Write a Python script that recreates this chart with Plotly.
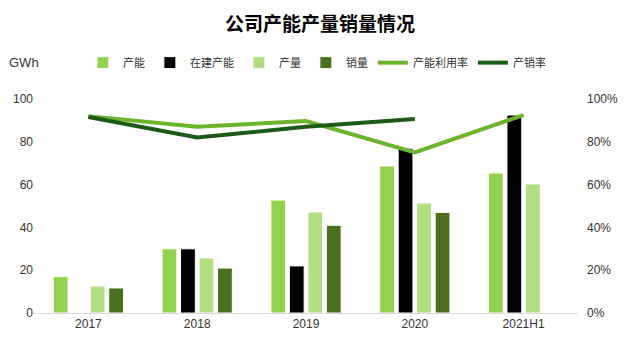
import plotly.graph_objects as go

categories = ["2017", "2018", "2019", "2020", "2021H1"]
capacity = [17, 30, 52.8, 68.7, 65.4]
under_construction = [None, 30, 22, 77, 92.5]
production = [12.6, 25.7, 47.2, 51.4, 60.3]
sales = [11.7, 21, 41, 47, None]
utilization = [0.92, 0.87, 0.897, 0.75, 0.925]
sell_through = [0.916, 0.82, 0.87, 0.906, None]

font_cn = "Noto Sans CJK SC, Liberation Sans, sans-serif"
font_num = "Liberation Sans, Arial, sans-serif"

fig = go.Figure()
bar_line = dict(color="white", width=1)
fig.add_trace(go.Bar(name="产能", x=categories, y=capacity, marker=dict(color="#92D050", line=bar_line)))
fig.add_trace(go.Bar(name="在建产能", x=categories, y=under_construction, marker=dict(color="#000000", line=bar_line)))
fig.add_trace(go.Bar(name="产量", x=categories, y=production, marker=dict(color="#B2DE82", line=bar_line)))
fig.add_trace(go.Bar(name="销量", x=categories, y=sales, marker=dict(color="#4A6F1E", line=bar_line)))
fig.add_trace(go.Scatter(name="产能利用率", x=categories, y=utilization, yaxis="y2", mode="lines",
                         line=dict(color="#6DB32C", width=4)))
fig.add_trace(go.Scatter(name="产销率", x=categories, y=sell_through, yaxis="y2", mode="lines",
                         line=dict(color="#1E5A17", width=4)))

fig.update_layout(
    width=640, height=343,
    margin=dict(l=34, r=62, t=99, b=30),
    paper_bgcolor="white", plot_bgcolor="white",
    barmode="group", bargap=0.32, bargroupgap=0.2,
    title=dict(text="<b>公司产能产量销量情况</b>", x=0.5, xanchor="center", y=0.93, yanchor="middle",
               font=dict(family=font_cn, size=19, color="#000000")),
    legend=dict(orientation="h", x=0.52, xanchor="center", y=1.17, yanchor="middle",
                font=dict(family=font_cn, size=11, color="#333333"),
                itemwidth=30, tracegroupgap=0, traceorder="normal"),
    xaxis=dict(showgrid=False, showline=True, linecolor="#D9D9D9", linewidth=1, ticks="",
               tickfont=dict(family=font_num, size=12, color="#333333")),
    yaxis=dict(range=[0, 100], dtick=20, showgrid=False, zeroline=False, showline=False,
               tickfont=dict(family=font_num, size=12, color="#333333"), ticks="", ticklen=4),
    yaxis2=dict(range=[0, 1], dtick=0.2, tickformat=".0%", overlaying="y", side="right",
                showgrid=False, zeroline=False, showline=False, ticklabelstandoff=8,
                tickfont=dict(family=font_num, size=12, color="#333333")),
    annotations=[dict(text="GWh", xref="paper", yref="paper", x=-0.05, xanchor="left",
                      y=1.17, yanchor="middle", showarrow=False,
                      font=dict(family=font_num, size=13, color="#333333"))],
)

fig.write_html("out.html")
